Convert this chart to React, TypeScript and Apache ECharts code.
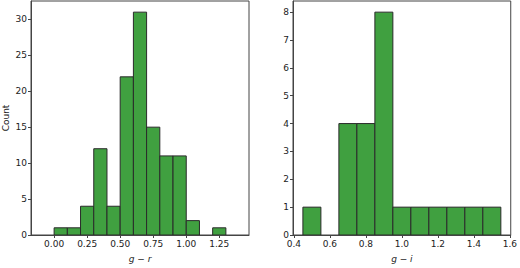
import React, { useEffect, useRef } from "react";
import * as echarts from "echarts";

// g - r histogram (bin width 0.1, starting at 0.0)
const grBinStart = 0.0;
const grBinWidth = 0.1;
const grCounts = [1, 1, 4, 12, 4, 22, 31, 15, 11, 11, 2, 0, 1];
const grXTicks = [0, 0.25, 0.5, 0.75, 1.0, 1.25];
const grYTicks = [0, 5, 10, 15, 20, 25, 30];

// g - i histogram (bin width 0.1, starting at 0.45)
const giBinStart = 0.45;
const giBinWidth = 0.1;
const giCounts = [1, 0, 4, 4, 8, 1, 1, 1, 1, 1, 1];
const giXTicks = [0.4, 0.6, 0.8, 1.0, 1.2, 1.4, 1.6];
const giYTicks = [0, 1, 2, 3, 4, 5, 6, 7, 8];

const FONT = "DejaVu Sans";
const BAR_FILL = "#40a040";
const BAR_EDGE = "#2a2a2a";
const SPINE = "#444444";

function toBins(start: number, width: number, counts: number[]) {
  return counts.map((c, i) => {
    const lo = Math.round((start + i * width) * 1000) / 1000;
    const hi = Math.round((start + (i + 1) * width) * 1000) / 1000;
    return [lo, hi, c];
  });
}

const renderBar = (params: any, api: any) => {
  const lo = api.value(0);
  const hi = api.value(1);
  const c = api.value(2);
  if (!c) return null;
  const p1 = api.coord([lo, c]);
  const p2 = api.coord([hi, 0]);
  return {
    type: "rect",
    shape: { x: p1[0], y: p1[1], width: p2[0] - p1[0], height: p2[1] - p1[1] },
    style: { fill: BAR_FILL, stroke: BAR_EDGE, lineWidth: 1 },
  };
};

const labelStyle = { fontFamily: FONT, fontSize: 9, color: "#222" };

function xAxis(gridIndex: number, min: number, max: number, ticks: number[], digits: number, v: string) {
  return {
    type: "value",
    gridIndex,
    min,
    max,
    axisLine: { show: true, onZero: false, lineStyle: { color: SPINE, width: 1 } },
    axisTick: { show: true, length: 3, customValues: ticks, lineStyle: { color: SPINE } },
    axisLabel: {
      ...labelStyle,
      margin: 4,
      customValues: ticks,
      formatter: (val: number) => val.toFixed(digits),
      showMinLabel: true,
      showMaxLabel: true,
    },
    splitLine: { show: false },
    name: `{i|g} − {i|${v}}`,
    nameLocation: "middle",
    nameGap: 19,
    nameTextStyle: {
      fontFamily: FONT,
      fontSize: 9,
      color: "#222",
      rich: { i: { fontFamily: FONT, fontSize: 9, fontStyle: "italic", color: "#222" } },
    },
  };
}

function yAxis(gridIndex: number, max: number, ticks: number[], name: string) {
  return {
    type: "value",
    gridIndex,
    min: 0,
    max,
    axisLine: { show: true, onZero: false, lineStyle: { color: SPINE, width: 1 } },
    axisTick: { show: true, length: 3, customValues: ticks, lineStyle: { color: SPINE } },
    axisLabel: { ...labelStyle, margin: 4, customValues: ticks },
    splitLine: { show: false },
    name,
    nameLocation: "middle",
    nameGap: 21,
    nameTextStyle: { fontFamily: FONT, fontSize: 9, color: "#222" },
  };
}

export default function App() {
  const ref = useRef<HTMLDivElement>(null);
  useEffect(() => {
    if (!ref.current) return;
    const chart = echarts.init(ref.current, null, { renderer: "svg" });
    const grMax = Math.max(...grCounts) * 1.05;
    const giMax = Math.max(...giCounts) * 1.05;
    chart.setOption({
      animation: false,
      backgroundColor: "#ffffff",
      grid: [
        { left: 29, top: 1, width: 220, height: 240, show: true, borderColor: SPINE, borderWidth: 1, backgroundColor: "transparent" },
        { left: 293, top: 1, width: 221, height: 240, show: true, borderColor: SPINE, borderWidth: 1, backgroundColor: "transparent" },
      ],
      xAxis: [
        xAxis(0, -0.175, 1.475, grXTicks, 2, "r"),
        xAxis(1, 0.395, 1.605, giXTicks, 1, "i"),
      ],
      yAxis: [yAxis(0, grMax, grYTicks, "Count"), yAxis(1, giMax, giYTicks, "")],
      series: [
        {
          type: "custom",
          xAxisIndex: 0,
          yAxisIndex: 0,
          renderItem: renderBar,
          encode: { x: [0, 1], y: 2 },
          data: toBins(grBinStart, grBinWidth, grCounts),
          clip: true,
        },
        {
          type: "custom",
          xAxisIndex: 1,
          yAxisIndex: 1,
          renderItem: renderBar,
          encode: { x: [0, 1], y: 2 },
          data: toBins(giBinStart, giBinWidth, giCounts),
          clip: true,
        },
      ],
    });
    return () => chart.dispose();
  }, []);
  return (
    <div
      ref={ref}
      style={{ width: 520, height: 268, position: "absolute", left: 0, top: 0, background: "#fff" }}
    />
  );
}
